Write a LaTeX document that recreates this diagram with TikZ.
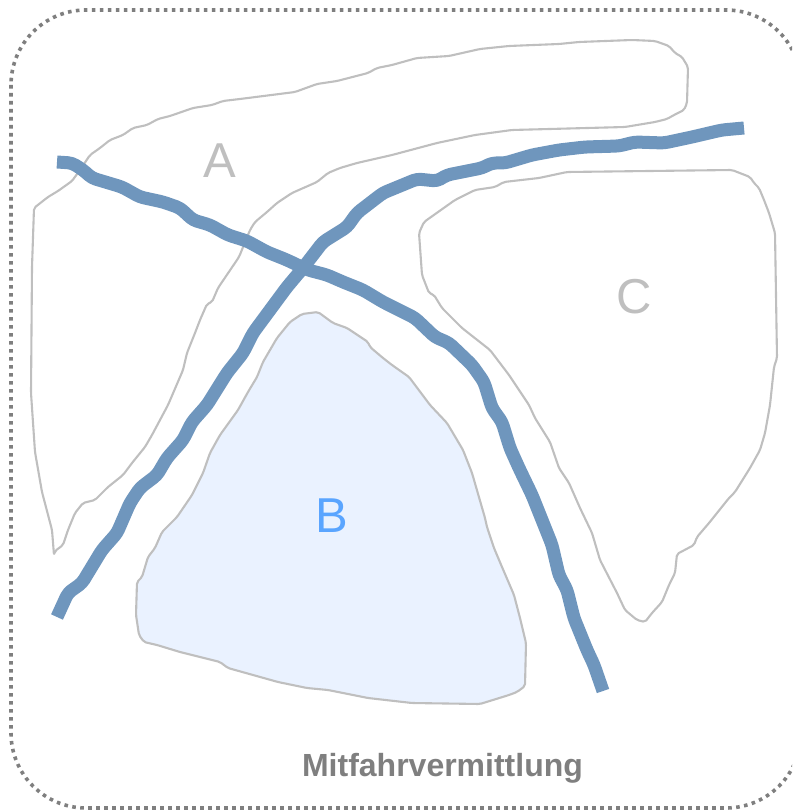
\documentclass[tikz,border=0pt]{standalone}
\usepackage{fontspec}
\setmainfont{Liberation Sans}
\definecolor{frameline}{RGB}{127, 127, 127}
\definecolor{regionline}{RGB}{191, 191, 191}
\definecolor{regionfill}{RGB}{234, 242, 255}
\definecolor{roadline}{RGB}{111, 150, 189}
\definecolor{highlight}{RGB}{90, 165, 255}
\begin{document}
\begin{tikzpicture}[
    x=1pt, y=-1pt,
    frame/.style={draw=frameline, line width=3.6pt, dash pattern=on 3.6pt off 4.4pt, rounded corners=75pt},
    region/.style={draw=regionline, line width=2.1pt, rounded corners=2pt, line join=round},
    road/.style={draw=roadline, line width=13pt, rounded corners=4pt, line join=round},
    letter/.style={font=\fontsize{49}{49}\selectfont, text=regionline, inner sep=0pt},
    caption/.style={font=\fontsize{32}{32}\selectfont\bfseries, text=frameline, inner sep=0pt}
]
    \useasboundingbox (0,0) rectangle (792,810);
    \clip (0,0) rectangle (792,810);

    % Frame
    \draw [frame] (11,10) rectangle (801,808);

    % Regions
    \draw [region] (54,555) -- (52,530) -- (42,492) -- (35,452) -- (31,393) -- (32,267) -- (34,208) -- (48,197) -- (58,191) -- (72,181) -- (80,170) -- (90,155) -- (100,148) -- (110,140) -- (123,135) -- (133,128) -- (147,125) -- (158,119) -- (170,116) -- (193,108) -- (212,105) -- (223,101) -- (240,99) -- (295,92) -- (317,84) -- (337,81) -- (368,73) -- (377,68) -- (392,65) -- (417,58) -- (449,56) -- (480,49) -- (509,46) -- (559,44) -- (579,42) -- (632,40) -- (655,41) -- (669,46) -- (675,53) -- (682,57) -- (688,67) -- (687,103) -- (684,110) -- (674,115) -- (667,119) -- (655,122) -- (625,127) -- (512,130) -- (475,135) -- (437,143) -- (392,155) -- (357,163) -- (340,168) -- (328,173) -- (317,182) -- (292,193) -- (277,203) -- (267,212) -- (255,222) -- (250,230) -- (239,257) -- (218,288) -- (212,302) -- (207,304) -- (200,320) -- (195,333) -- (187,353) -- (183,370) -- (168,405) -- (152,435) -- (145,447) -- (132,463) -- (123,475) -- (108,487) -- (95,500) -- (83,503) -- (75,513) -- (68,530) -- (63,545) -- (55,551) -- cycle;
    \draw [region, fill=regionfill] (318,312) -- (302,314) -- (290,322) -- (277,338) -- (263,362) -- (257,377) -- (248,392) -- (238,410) -- (220,435) -- (210,453) -- (203,473) -- (192,495) -- (177,517) -- (162,532) -- (155,548) -- (148,557) -- (142,577) -- (137,582) -- (136,615) -- (139,635) -- (144,642) -- (157,645) -- (180,652) -- (220,662) -- (228,668) -- (278,682) -- (307,688) -- (328,690) -- (368,698) -- (412,703) -- (480,704) -- (509,695) -- (517,692) -- (525,686) -- (526,643) -- (520,618) -- (514,595) -- (502,567) -- (494,548) -- (487,527) -- (485,518) -- (472,473) -- (463,450) -- (447,423) -- (430,405) -- (409,377) -- (392,365) -- (383,358) -- (370,347) -- (368,342) -- (347,328) -- (333,323) -- cycle;
    \draw [region] (567,172) -- (732,170) -- (750,177) -- (754,183) -- (759,188) -- (764,200) -- (769,213) -- (775,233) -- (777,358) -- (774,367) -- (770,405) -- (765,433) -- (760,450) -- (750,468) -- (735,492) -- (729,498) -- (709,523) -- (697,537) -- (694,545) -- (677,554) -- (675,573) -- (669,585) -- (662,602) -- (652,613) -- (645,622) -- (637,620) -- (625,610) -- (617,593) -- (600,560) -- (592,533) -- (580,508) -- (569,483) -- (559,468) -- (550,442) -- (535,418) -- (529,405) -- (509,375) -- (490,350) -- (462,328) -- (442,308) -- (434,295) -- (429,293) -- (422,275) -- (419,233) -- (424,222) -- (455,200) -- (475,190) -- (495,187) -- (504,182) -- (539,178) -- cycle;

    % Roads
    \draw [road] (57,162) -- (72,163) -- (83,170) -- (92,178) -- (122,187) -- (140,197) -- (163,202) -- (180,208) -- (193,220) -- (210,225) -- (228,235) -- (247,241) -- (267,252) -- (287,260) -- (308,270) -- (327,275) -- (343,282) -- (363,290) -- (383,302) -- (415,318) -- (435,337) -- (449,343) -- (472,365) -- (484,382) -- (492,408) -- (502,422) -- (510,448) -- (519,468) -- (532,495) -- (544,525) -- (552,545) -- (559,575) -- (567,590) -- (574,618) -- (587,650) -- (594,665) -- (603,691);
    \draw [road] (57,617) -- (68,593) -- (82,583) -- (102,550) -- (117,533) -- (130,503) -- (140,488) -- (157,475) -- (167,458) -- (183,440) -- (192,422) -- (207,405) -- (227,373) -- (243,353) -- (253,333) -- (270,310) -- (287,287) -- (303,268) -- (323,242) -- (347,227) -- (357,213) -- (383,193) -- (417,179) -- (437,181) -- (447,175) -- (482,168) -- (492,163) -- (505,163) -- (532,155) -- (559,150) -- (585,147) -- (619,146) -- (635,142) -- (664,143) -- (692,137) -- (709,133) -- (722,130) -- (744,128);

    % Labels
    \node [letter] (labelA) at (219.5,161) {A};
    \node [letter, text=highlight] (labelB) at (331.5,516) {B};
    \node [letter] (labelC) at (634.5,297) {C};
    \node [caption] (title) at (442.5,768) {Mitfahrvermittlung};
\end{tikzpicture}
\end{document}
